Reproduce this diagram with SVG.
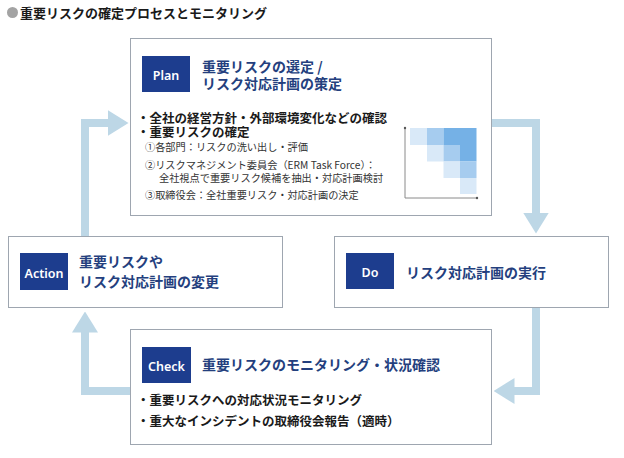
<svg xmlns="http://www.w3.org/2000/svg" width="624" height="458" viewBox="0 0 624 458">
<defs>
<style>
.box{fill:#ffffff;stroke:#9ea6b0;stroke-width:1}
.tag{fill:#1d3d8e}
.tagt{font-family:"Noto Sans","Noto Sans CJK JP",sans-serif;font-size:12.5px;font-weight:600;fill:#ffffff;text-anchor:middle}
.ttl{font-family:"Noto Sans CJK JP","Noto Sans CJK SC",sans-serif;font-size:14px;font-weight:700;fill:#243f7e}
.blt{font-family:"Noto Sans CJK JP","Noto Sans CJK SC",sans-serif;font-size:12.5px;font-weight:700;fill:#1a1a1a}
.sub{font-family:"Noto Sans CJK JP","Noto Sans CJK SC",sans-serif;font-size:10.2px;font-weight:400;fill:#333333}
.head{font-family:"Noto Sans CJK JP","Noto Sans CJK SC",sans-serif;font-size:13px;font-weight:700;fill:#1a1a1a}
.arr{fill:none;stroke:#bdd7e6;stroke-width:8;stroke-linejoin:miter}
.c1{fill:#d9e9f8}
.c2{fill:#a6ccef}
.c3{fill:#75b1e6}
.ax{stroke:#8a8a8a;stroke-width:1;fill:none}
</style>
<marker id="ah" viewBox="0 0 21 26" refX="0.5" refY="13" markerWidth="21" markerHeight="26" markerUnits="userSpaceOnUse" orient="auto">
<path d="M0 0 L21 13 L0 26 Z" fill="#bdd7e6"/>
</marker>
</defs>
<rect width="624" height="458" fill="#ffffff"/>

<g id="title">
<circle cx="12.5" cy="12.5" r="5.5" fill="#a3a3a3"/>
<text class="head" x="20" y="17.5">重要リスクの確定プロセスとモニタリング</text>
</g>

<g id="connectors">
<path class="arr" d="M492 123 H536 V213" marker-end="url(#ah)"/>
<path class="arr" d="M536 308 V391 H514" marker-end="url(#ah)"/>
<path class="arr" d="M131 391 H85 V332" marker-end="url(#ah)"/>
<path class="arr" d="M85 236 V123 H108" marker-end="url(#ah)"/>
</g>

<g id="plan">
<rect class="box" x="130.5" y="38.5" width="361" height="177"/>
<rect class="tag" x="142" y="56" width="48" height="36"/>
<text class="tagt" x="166" y="80">Plan</text>
<text class="ttl" x="202" y="72">重要リスクの選定 /</text>
<text class="ttl" x="202" y="89.3">リスク対応計画の策定</text>
<text class="blt" x="137" y="122.8">・全社の経営方針・外部環境変化などの確認</text>
<text class="blt" x="137" y="136.7">・重要リスクの確定</text>
<text class="sub" x="145" y="151.3">①各部門：リスクの洗い出し・評価</text>
<text class="sub" x="145" y="168.8">②リスクマネジメント委員会（ERM Task Force）：</text>
<text class="sub" x="159" y="181.8">全社視点で重要リスク候補を抽出・対応計画検討</text>
<text class="sub" x="145" y="198.8">③取締役会：全社重要リスク・対応計画の決定</text>
<g id="matrix">
<rect class="c1" x="410" y="128" width="17" height="17"/>
<rect class="c2" x="427" y="128" width="16.5" height="17"/>
<rect class="c3" x="443.5" y="128" width="16.5" height="17"/>
<rect class="c3" x="460" y="128" width="16.5" height="17"/>
<rect class="c1" x="427" y="145" width="16.5" height="16.5"/>
<rect class="c2" x="443.5" y="145" width="16.5" height="16.5"/>
<rect class="c3" x="460" y="145" width="16.5" height="16.5"/>
<rect class="c1" x="443.5" y="161.5" width="16.5" height="16.5"/>
<rect class="c2" x="460" y="161.5" width="16.5" height="16.5"/>
<rect class="c1" x="460" y="178" width="16.5" height="16"/>
<path class="ax" d="M405 128 V198 H477"/>
<circle cx="405" cy="128" r="1.2" fill="#555"/>
<circle cx="477" cy="198" r="1.2" fill="#555"/>
</g>
</g>

<g id="do">
<rect class="box" x="334.5" y="236.5" width="274" height="71"/>
<rect class="tag" x="346" y="253" width="48" height="36"/>
<text class="tagt" x="370" y="277.3">Do</text>
<text class="ttl" x="406" y="277.8">リスク対応計画の実行</text>
</g>

<g id="check">
<rect class="box" x="130.5" y="329.5" width="361" height="115"/>
<rect class="tag" x="142" y="347" width="49" height="36"/>
<text class="tagt" x="166.5" y="370.7">Check</text>
<text class="ttl" x="202" y="370.3">重要リスクのモニタリング・状況確認</text>
<text class="blt" x="137" y="404.8">・重要リスクへの対応状況モニタリング</text>
<text class="blt" x="137" y="425.8">・重大なインシデントの取締役会報告（適時）</text>
</g>

<g id="action">
<rect class="box" x="8.5" y="236.5" width="274" height="71"/>
<rect class="tag" x="20" y="253" width="48" height="37"/>
<text class="tagt" x="44" y="278">Action</text>
<text class="ttl" x="79" y="267.3">重要リスクや</text>
<text class="ttl" x="79" y="287.3">リスク対応計画の変更</text>
</g>
</svg>
